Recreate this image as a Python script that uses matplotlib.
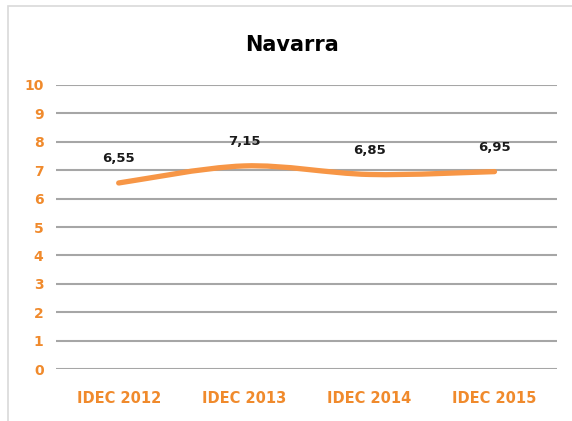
import matplotlib
matplotlib.use("Agg")
import matplotlib.pyplot as plt
from matplotlib.path import Path
from matplotlib.patches import PathPatch, Rectangle
import numpy as np

plt.rcParams["font.family"] = ["DejaVu Sans"]

categories = ["IDEC 2012", "IDEC 2013", "IDEC 2014", "IDEC 2015"]
values = [6.55, 7.15, 6.85, 6.95]
value_labels = ["6,55", "7,15", "6,85", "6,95"]
y_ticks = list(range(0, 11))

ORANGE_TXT = "#F08A2C"
ORANGE_LINE = "#F79646"
GRID = "#A6A6A6"


def smooth_path(xs, ys, tension=1 / 6):
    """Excel-like smoothed line as cubic Bezier segments (Catmull-Rom)."""
    pts = list(zip(xs, ys))
    verts, codes = [pts[0]], [Path.MOVETO]
    for i in range(len(pts) - 1):
        p0 = pts[i - 1] if i > 0 else pts[i]
        p1, p2 = pts[i], pts[i + 1]
        p3 = pts[i + 2] if i + 2 < len(pts) else pts[i + 1]
        c1 = (p1[0] + (p2[0] - p0[0]) * tension, p1[1] + (p2[1] - p0[1]) * tension)
        c2 = (p2[0] - (p3[0] - p1[0]) * tension, p2[1] - (p3[1] - p1[1]) * tension)
        verts += [c1, c2, p2]
        codes += [Path.CURVE4] * 3
    return Path(verts, codes)


fig = plt.figure(figsize=(5.72, 4.21), dpi=100)
fig.patches.append(Rectangle((0.014, -0.01), 0.99, 0.995, transform=fig.transFigure,
                             fill=False, edgecolor="#D9D9D9", lw=1.2))

ax = fig.add_axes([0.098, 0.1235, 0.876, 0.6746])
x = np.arange(len(categories))
ax.set_xlim(-0.5, len(categories) - 0.5)
ax.set_ylim(0, 10)

for t in y_ticks:
    ax.axhline(t, color=GRID, lw=1.5, zorder=1)

ax.add_patch(PathPatch(smooth_path(x, values), fill=False, edgecolor=ORANGE_LINE,
                       lw=3.8, capstyle="round", joinstyle="round", zorder=3))

for xi, v, lab in zip(x, values, value_labels):
    ax.annotate(lab, (xi, v), xytext=(0, 17.5), textcoords="offset points",
                ha="center", va="center", fontsize=9.5, fontweight="bold", color="#1a1a1a")

ax.set_yticks(y_ticks)
ax.set_yticklabels([str(t) for t in y_ticks], fontsize=10, fontweight="bold", color=ORANGE_TXT)
ax.set_xticks(x)
ax.set_xticklabels(categories, fontsize=10.5, fontweight="bold", color=ORANGE_TXT)
ax.tick_params(axis="both", length=0)
ax.tick_params(axis="y", pad=9)
ax.tick_params(axis="x", pad=16)
for s in ax.spines.values():
    s.set_visible(False)

fig.text(0.51, 0.893, "Navarra", ha="center", va="center", fontsize=15, fontweight="bold")

fig.savefig("out.png", dpi=100)
